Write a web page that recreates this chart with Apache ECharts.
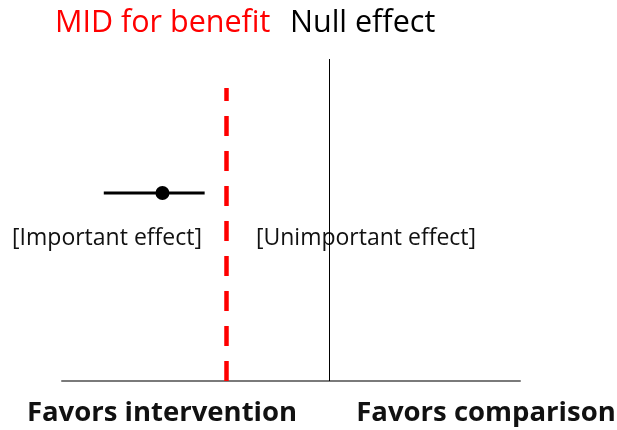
<!DOCTYPE html>
<html>
<head>
<meta charset="utf-8">
<script src="https://cdn.jsdelivr.net/npm/echarts@6/dist/echarts.min.js"></script>
<style>
  html, body { margin: 0; padding: 0; background: #fff; }
  #chart { width: 617px; height: 430px; }
</style>
</head>
<body>
<div id="chart"></div>
<script>
// effect scale: null effect = 0, MID for benefit = -1
const nullEffect = 0
const midBenefit = -1
const estimate = -1.624
const ciLow = -2.194
const ciHigh = -1.214
const rowY = 0.584
const midTop = 0.91
const nullTop = 1

const FONT = '"Open Sans"'

const chart = echarts.init(document.getElementById('chart'))
chart.setOption({
  animation: false,
  grid: { left: 62, right: 97, top: 59, bottom: 49 },
  xAxis: {
    type: 'value',
    min: -2.6,
    max: 1.85,
    axisLine: { show: true, lineStyle: { color: '#7a7a7a', width: 2 } },
    axisTick: { show: false },
    axisLabel: { show: false },
    splitLine: { show: false }
  },
  yAxis: {
    type: 'value',
    min: 0,
    max: 1,
    show: false
  },
  graphic: [
    { type: 'text', style: { x: 55, y: 23, text: 'MID for benefit', fill: '#ff0000', font: '30.5px ' + FONT, textVerticalAlign: 'middle' } },
    { type: 'text', style: { x: 290, y: 23, text: 'Null effect', fill: '#000', font: '30.5px ' + FONT, textVerticalAlign: 'middle' } },
    { type: 'text', z: -1, style: { x: 107, y: 238, text: '[Important effect]', fill: '#111', font: '23px ' + FONT, textAlign: 'center', textVerticalAlign: 'middle' } },
    { type: 'text', z: -1, style: { x: 366, y: 238, text: '[Unimportant effect]', fill: '#111', font: '23px ' + FONT, textAlign: 'center', textVerticalAlign: 'middle' } },
    { type: 'text', style: { x: 162, y: 413, text: 'Favors intervention', fill: '#111', font: 'bold 27.5px ' + FONT, textAlign: 'center', textVerticalAlign: 'middle' } },
    { type: 'text', style: { x: 486, y: 413, text: 'Favors comparison', fill: '#111', font: 'bold 27.5px ' + FONT, textAlign: 'center', textVerticalAlign: 'middle' } }
  ],
  series: [
    {
      type: 'line',
      data: [[ciLow, rowY], [ciHigh, rowY]],
      symbol: 'none',
      lineStyle: { color: '#000', width: 3 },
      markLine: {
        silent: true,
        symbol: 'none',
        label: { show: false },
        data: [
          [
            { coord: [nullEffect, 0], lineStyle: { color: '#000', width: 1, type: 'solid' } },
            { coord: [nullEffect, nullTop] }
          ],
          [
            { coord: [midBenefit, 0], lineStyle: { color: '#ff0000', width: 4.5, type: [20, 15] } },
            { coord: [midBenefit, midTop] }
          ]
        ]
      }
    },
    {
      type: 'scatter',
      data: [[estimate, rowY]],
      symbol: 'circle',
      symbolSize: 14,
      itemStyle: { color: '#000', opacity: 1 },
      z: 3
    }
  ]
})
</script>
</body>
</html>
